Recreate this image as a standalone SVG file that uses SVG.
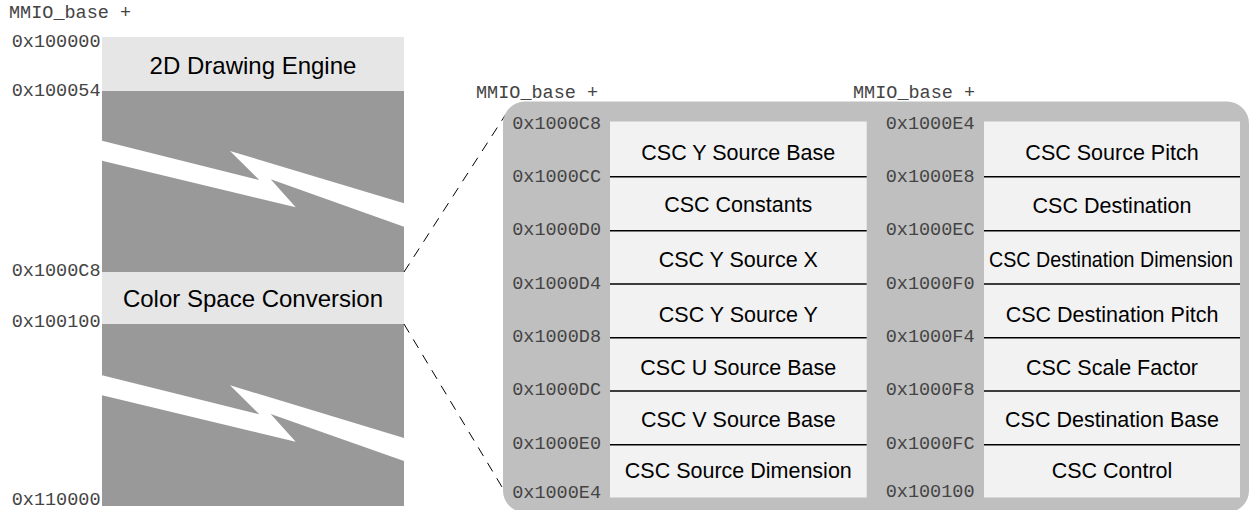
<svg xmlns="http://www.w3.org/2000/svg" width="1252" height="510" viewBox="0 0 1252 510">
<style>
.addr{font-family:"Liberation Mono","Courier New",monospace;font-size:18.5px;fill:#444}
.addrR{font-family:"Liberation Mono","Courier New",monospace;font-size:18.5px;fill:#444;text-anchor:end}
.big{font-family:"Liberation Sans",Arial,sans-serif;font-size:24px;fill:#000;text-anchor:middle}
.reg{font-family:"Liberation Sans",Arial,sans-serif;font-size:21.5px;fill:#000;text-anchor:middle}
.light{fill:#e6e6e6}
.dark{fill:#999999}
.bolt{fill:#ffffff}
.box{fill:#f2f2f2}
.div{stroke:#000;stroke-width:1.5}
.dash{stroke:#000;stroke-width:1;stroke-dasharray:10 8;fill:none}
</style>
<rect width="1252" height="510" fill="#ffffff"/>

<g id="memory-map">
  <text class="addr" x="9" y="18.3">MMIO_base +</text>
  <g id="drawing-engine">
    <rect class="light" x="102" y="37" width="302" height="54"/>
    <text class="big" x="253" y="74">2D Drawing Engine</text>
  </g>
  <g id="gap-upper">
    <rect class="dark" x="102" y="91" width="302" height="181"/>
    <polygon class="bolt" points="102,140.7 259.3,180 230,151 404,203.3 404,226.7 270.7,179.3 295.7,207.3 102,160.7"/>
  </g>
  <g id="color-space-conversion">
    <rect class="light" x="102" y="272" width="302" height="52"/>
    <text class="big" x="253" y="306.7">Color Space Conversion</text>
  </g>
  <g id="gap-lower">
    <rect class="dark" x="102" y="324" width="302" height="182"/>
    <polygon class="bolt" points="102,375.3 259.3,414.3 230,385.3 404,438 404,461 270.7,414 295.7,441.7 102,395.3"/>
  </g>
  <text class="addrR" x="100.5" y="47">0x100000</text>
  <text class="addrR" x="100.5" y="96">0x100054</text>
  <text class="addrR" x="100.5" y="275.7">0x1000C8</text>
  <text class="addrR" x="100.5" y="326.7">0x100100</text>
  <text class="addrR" x="100.5" y="504.5">0x110000</text>
</g>

<g id="connectors">
  <line class="dash" x1="404" y1="272" x2="506" y2="114"/>
  <line class="dash" x1="404" y1="324" x2="502" y2="487"/>
</g>

<g id="csc-registers">
  <rect x="503" y="101.5" width="746" height="411" rx="22" ry="22" fill="#bfbfbf"/>
  <text class="addr" x="476" y="98.3">MMIO_base +</text>
  <text class="addr" x="853" y="98.3">MMIO_base +</text>

  <g id="csc-left-column">
    <rect class="box" x="610" y="121.5" width="256.7" height="376"/>
    <line class="div" x1="610" y1="176.7" x2="866.7" y2="176.7"/>
    <line class="div" x1="610" y1="230.7" x2="866.7" y2="230.7"/>
    <line class="div" x1="610" y1="284" x2="866.7" y2="284"/>
    <line class="div" x1="610" y1="337.7" x2="866.7" y2="337.7"/>
    <line class="div" x1="610" y1="391" x2="866.7" y2="391"/>
    <line class="div" x1="610" y1="444.7" x2="866.7" y2="444.7"/>
    <text class="reg" x="738.3" y="160">CSC Y Source Base</text>
    <text class="reg" x="738.3" y="211.7">CSC Constants</text>
    <text class="reg" x="738.3" y="266.7">CSC Y Source X</text>
    <text class="reg" x="738.3" y="321.7">CSC Y Source Y</text>
    <text class="reg" x="738.3" y="375">CSC U Source Base</text>
    <text class="reg" x="738.3" y="426.7">CSC V Source Base</text>
    <text class="reg" x="738.3" y="478.3">CSC Source Dimension</text>
    <text class="addrR" x="601" y="129.3">0x1000C8</text>
    <text class="addrR" x="601" y="181.5">0x1000CC</text>
    <text class="addrR" x="601" y="235.2">0x1000D0</text>
    <text class="addrR" x="601" y="288.5">0x1000D4</text>
    <text class="addrR" x="601" y="342.2">0x1000D8</text>
    <text class="addrR" x="601" y="395.3">0x1000DC</text>
    <text class="addrR" x="601" y="448.6">0x1000E0</text>
    <text class="addrR" x="601" y="498.3">0x1000E4</text>
  </g>

  <g id="csc-right-column">
    <rect class="box" x="984" y="121.5" width="256" height="376"/>
    <line class="div" x1="984" y1="176.7" x2="1240" y2="176.7"/>
    <line class="div" x1="984" y1="230.7" x2="1240" y2="230.7"/>
    <line class="div" x1="984" y1="284" x2="1240" y2="284"/>
    <line class="div" x1="984" y1="337.7" x2="1240" y2="337.7"/>
    <line class="div" x1="984" y1="391" x2="1240" y2="391"/>
    <line class="div" x1="984" y1="444.7" x2="1240" y2="444.7"/>
    <text class="reg" x="1112" y="160">CSC Source Pitch</text>
    <text class="reg" x="1112" y="213.3">CSC Destination</text>
    <text class="reg" transform="translate(1111,266.7) scale(0.916,1)" x="0" y="0">CSC Destination Dimension</text>
    <text class="reg" x="1112" y="321.7">CSC Destination Pitch</text>
    <text class="reg" x="1112" y="375">CSC Scale Factor</text>
    <text class="reg" x="1112" y="426.7">CSC Destination Base</text>
    <text class="reg" x="1112" y="478.3">CSC Control</text>
    <text class="addrR" x="974.5" y="129.3">0x1000E4</text>
    <text class="addrR" x="974.5" y="181.5">0x1000E8</text>
    <text class="addrR" x="974.5" y="235.2">0x1000EC</text>
    <text class="addrR" x="974.5" y="288.5">0x1000F0</text>
    <text class="addrR" x="974.5" y="342.2">0x1000F4</text>
    <text class="addrR" x="974.5" y="395.3">0x1000F8</text>
    <text class="addrR" x="974.5" y="448.6">0x1000FC</text>
    <text class="addrR" x="974.5" y="497.3">0x100100</text>
  </g>
</g>
</svg>
